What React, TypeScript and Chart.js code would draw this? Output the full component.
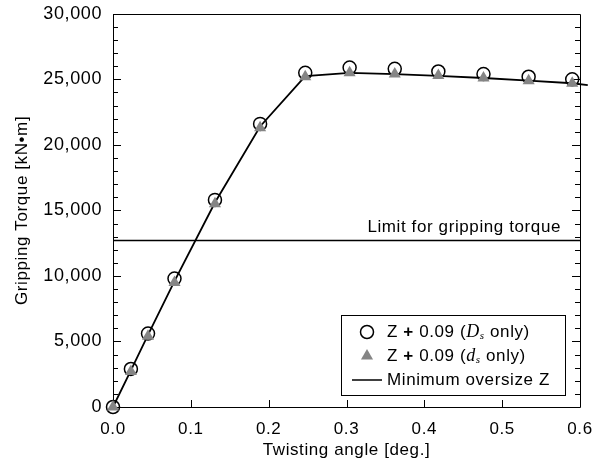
import React, { useEffect, useRef } from "react";
import { Chart, registerables } from "chart.js";
Chart.register(...registerables);

// Twisting angle [deg.] of the measured points
const angleDeg = [0, 0.023, 0.045, 0.079, 0.131, 0.189, 0.247, 0.304, 0.362, 0.418, 0.476, 0.534, 0.59];
// Z + 0.09 (Ds only)
const torqueDsUpper = [0, 2900, 5600, 9800, 15800, 21600, 25500, 25900, 25800, 25600, 25400, 25200, 25000];
// Z + 0.09 (ds only)
const torqueDsLower = [0, 2700, 5400, 9500, 15500, 21300, 25200, 25500, 25400, 25300, 25100, 24900, 24700];
// Minimum oversize Z (line)
const lineAngleDeg = [0, 0.023, 0.045, 0.079, 0.131, 0.189, 0.247, 0.304, 0.362, 0.418, 0.476, 0.534, 0.59, 0.61];
const torqueMinOversize = [0, 2800, 5500, 9600, 15600, 21400, 25250, 25500, 25400, 25270, 25100, 24900, 24700, 24550];
// Limit for gripping torque
const limitTorque = 12700;
const limitAngles = [0, 0.6];

const xTickValues = [0, 0.1, 0.2, 0.3, 0.4, 0.5, 0.6];
const yMajorStep = 5000;
const yMinorStep = 1000;
const yMax = 30000;

const SANS = "'Liberation Sans', Arial, sans-serif";
const SERIF = "'Liberation Serif', 'Times New Roman', serif";
const SPACING = "0.6px";

const framePlugin = {
  id: "frame",
  beforeDraw(chart: any) {
    chart.ctx.letterSpacing = SPACING;
  },
  beforeDatasetsDraw(chart: any) {
    const { ctx, chartArea: a, scales } = chart;
    const xs = scales.x, ys = scales.y;
    ctx.save();
    ctx.strokeStyle = "#000";
    ctx.lineWidth = 1;
    ctx.beginPath();
    ctx.rect(Math.round(a.left) + 0.5, Math.round(a.top) + 0.5, Math.round(a.right - a.left), Math.round(a.bottom - a.top));
    ctx.stroke();
    ctx.beginPath();
    for (let v = 0; v <= yMax; v += yMinorStep) {
      const y = Math.round(ys.getPixelForValue(v)) + 0.5;
      const len = v % yMajorStep === 0 ? 8 : 5;
      ctx.moveTo(a.left, y);
      ctx.lineTo(a.left + len, y);
      ctx.moveTo(a.right, y);
      ctx.lineTo(a.right - len, y);
    }
    for (const v of xTickValues) {
      const x = Math.round(xs.getPixelForValue(v)) + 0.5;
      ctx.moveTo(x, a.bottom);
      ctx.lineTo(x, a.bottom - 7);
    }
    ctx.stroke();
    ctx.restore();
  },
  afterDraw(chart: any) {
    const { ctx, chartArea: a, scales } = chart;
    const ys = scales.y;
    ctx.save();
    ctx.letterSpacing = SPACING;
    // limit label
    ctx.fillStyle = "#000";
    ctx.font = `17px ${SANS}`;
    ctx.textAlign = "right";
    ctx.textBaseline = "middle";
    ctx.fillText("Limit for gripping torque", a.right - 19, ys.getPixelForValue(limitTorque) - 13);

    // legend box
    const bw = 224, bh = 80;
    const bx = Math.round(a.right - 15 - bw), by = Math.round(a.bottom - 12 - bh);
    ctx.fillStyle = "#fff";
    ctx.fillRect(bx, by, bw, bh);
    ctx.strokeStyle = "#000";
    ctx.lineWidth = 1;
    ctx.strokeRect(bx + 0.5, by + 0.5, bw, bh);
    const mx = bx + 26, tx = bx + 46;
    const rows = [by + 17, by + 41, by + 65];
    // circle
    ctx.beginPath();
    ctx.lineWidth = 1.5;
    ctx.arc(mx, rows[0], 6.5, 0, Math.PI * 2);
    ctx.stroke();
    // triangle
    const r = 7;
    ctx.fillStyle = "#858585";
    ctx.beginPath();
    ctx.moveTo(mx, rows[1] - r);
    ctx.lineTo(mx + r * 0.866, rows[1] + r / 2);
    ctx.lineTo(mx - r * 0.866, rows[1] + r / 2);
    ctx.closePath();
    ctx.fill();
    // line
    ctx.beginPath();
    ctx.lineWidth = 1.5;
    ctx.moveTo(mx - 15, rows[2]);
    ctx.lineTo(mx + 15, rows[2]);
    ctx.stroke();

    const drawSegs = (segs: any[], x: number, y: number) => {
      ctx.textAlign = "left";
      ctx.textBaseline = "middle";
      ctx.fillStyle = "#000";
      for (const s of segs) {
        ctx.font = s.f;
        ctx.fillText(s.t, x, y + (s.dy || 0));
        x += ctx.measureText(s.t).width;
      }
    };
    const norm = `17px ${SANS}`;
    const bold = `bold 17px ${SANS}`;
    drawSegs([
      { t: "Z ", f: norm }, { t: "+", f: bold }, { t: " 0.09 (", f: norm },
      { t: "D", f: `italic 18px ${SERIF}` }, { t: "s", f: `italic 11px ${SERIF}`, dy: 4 }, { t: " only)", f: norm },
    ], tx, rows[0]);
    drawSegs([
      { t: "Z ", f: norm }, { t: "+", f: bold }, { t: " 0.09 (", f: norm },
      { t: "d", f: `italic 18px ${SERIF}` }, { t: "s", f: `italic 11px ${SERIF}`, dy: 4 }, { t: " only)", f: norm },
    ], tx, rows[1]);
    drawSegs([{ t: "Minimum oversize Z", f: norm }], tx, rows[2]);
    ctx.restore();
  },
};

export default function App() {
  const ref = useRef<HTMLCanvasElement>(null);
  useEffect(() => {
    document.body.style.margin = "0";
    const toXY = (xs: number[], ys: number[]) => xs.map((x, i) => ({ x, y: ys[i] }));
    const chart = new Chart(ref.current!, {
      type: "scatter",
      data: {
        datasets: [
          {
            label: "Z + 0.09 (ds only)",
            data: toXY(angleDeg, torqueDsLower),
            pointStyle: "triangle",
            pointRadius: 7,
            backgroundColor: "#858585",
            borderWidth: 0,
            borderColor: "#858585",
            order: 0,
            clip: false,
          },
          {
            label: "Z + 0.09 (Ds only)",
            data: toXY(angleDeg, torqueDsUpper),
            pointStyle: "circle",
            pointRadius: 6.5,
            backgroundColor: "rgba(0,0,0,0)",
            borderColor: "#000",
            borderWidth: 1.5,
            order: 1,
            clip: false,
          },
          {
            label: "Minimum oversize Z",
            data: toXY(lineAngleDeg, torqueMinOversize),
            showLine: true,
            pointRadius: 0,
            borderColor: "#000",
            borderWidth: 1.8,
            order: 2,
            clip: false,
          },
          {
            label: "Limit for gripping torque",
            data: limitAngles.map((x) => ({ x, y: limitTorque })),
            showLine: true,
            pointRadius: 0,
            borderColor: "#000",
            borderWidth: 1.5,
            order: 3,
          },
        ],
      } as any,
      options: {
        animation: false,
        responsive: false,
        layout: { padding: { top: 9, right: 26, left: 0, bottom: 0 } },
        plugins: { legend: { display: false }, tooltip: { enabled: false } },
        scales: {
          x: {
            type: "linear",
            min: 0,
            max: 0.6,
            afterBuildTicks: (s: any) => { s.ticks = xTickValues.map((v) => ({ value: v })); },
            afterFit: (s: any) => { s.height = 54; },
            ticks: { callback: (v: any) => Number(v).toFixed(1), color: "#000", font: { family: SANS, size: 17 }, padding: 4, maxRotation: 0 },
            grid: { display: false },
            border: { display: false },
            title: { display: true, text: "Twisting angle [deg.]", color: "#000", font: { family: SANS, size: 17 }, padding: { top: 0, bottom: 0 } },
          },
          y: {
            type: "linear",
            min: 0,
            max: yMax,
            ticks: { stepSize: yMajorStep, callback: (v: any) => Number(v).toLocaleString("en-US"), color: "#000", font: { family: SANS, size: 18 }, padding: 3 },
            afterFit: (s: any) => { s.width = 113; },
            grid: { display: false },
            border: { display: false },
            title: { display: true, text: "Gripping Torque [kN\u2022m]", color: "#000", font: { family: SANS, size: 17 }, padding: { top: 12, bottom: 0 } },
          },
        },
      } as any,
      plugins: [framePlugin],
    });
    return () => chart.destroy();
  }, []);
  return (
    <div style={{ width: 606, height: 461 }}>
      <canvas ref={ref} width={606} height={461} />
    </div>
  );
}
